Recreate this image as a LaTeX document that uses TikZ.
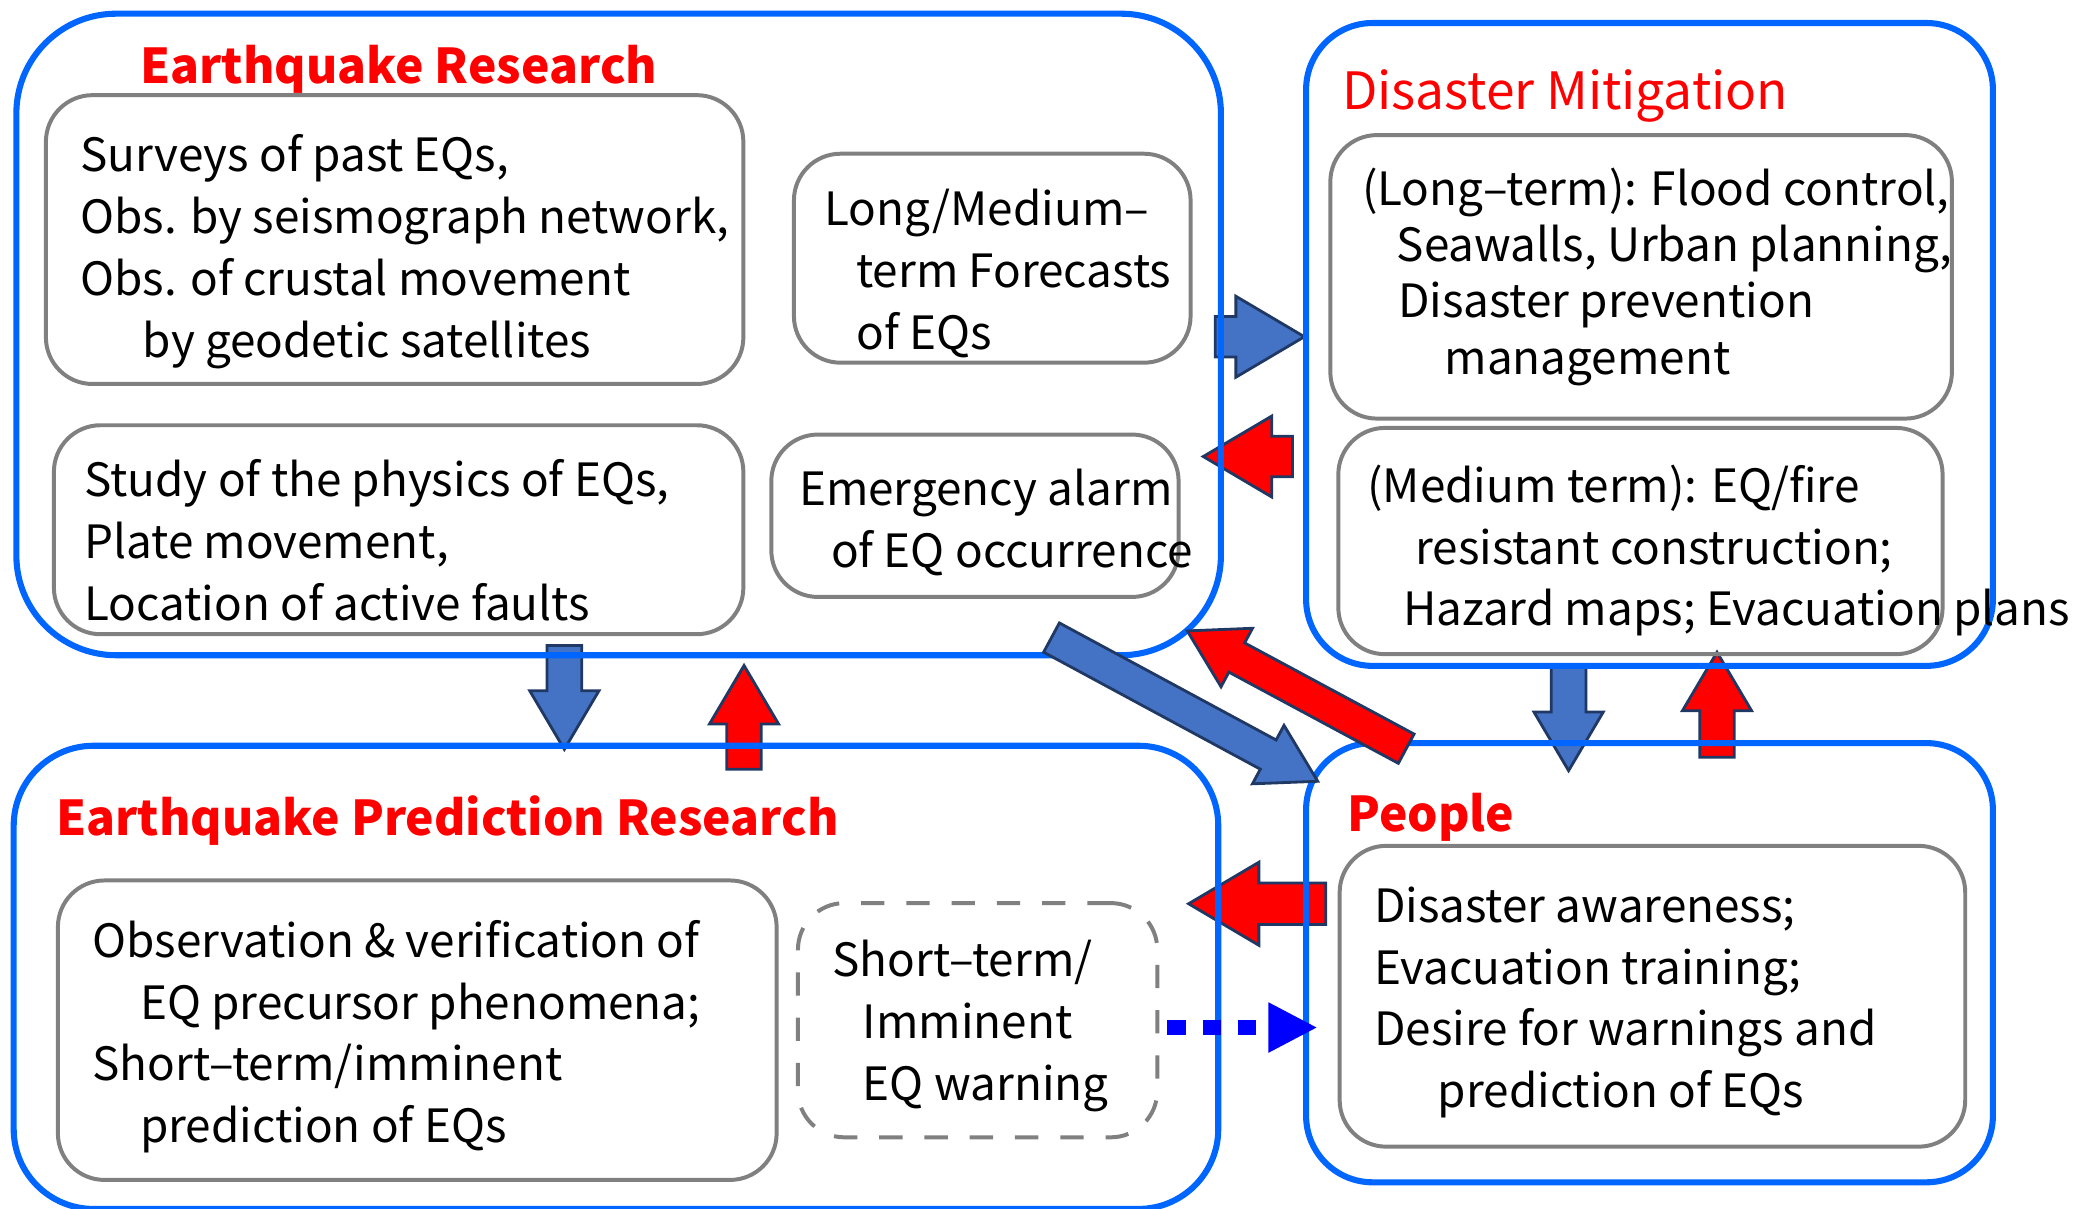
\documentclass[tikz,border=0pt]{standalone}
\usepackage{fontspec}
\setmainfont{Noto Sans CJK JP}
\usetikzlibrary{calc,arrows.meta,positioning}

\definecolor{frameblue}{HTML}{0066FF}
\definecolor{fatblue}{HTML}{4472C4}
\definecolor{fatedge}{HTML}{1F3864}
\definecolor{boxgray}{HTML}{808080}
\definecolor{dotblue}{HTML}{0000FF}

\tikzset{
  outerbox/.style={draw=frameblue, line width=2.6pt, anchor=north west, inner sep=0pt},
  innerbox/.style={draw=boxgray, line width=1.7pt, rounded corners=0.7cm, anchor=north west, inner sep=0pt},
  boxtext/.style={anchor=north west, align=left, inner sep=0pt, font=\fontsize{19.6}{26.4}\selectfont},
  boxtitle/.style={anchor=base west, inner sep=0pt, text=red, font=\fontsize{20.5}{26}\selectfont\bfseries},
  fat/.style={draw=fatedge, line width=1.2pt, line join=miter},
  dotarrow/.style={dotblue, line width=0.22cm, dash pattern=on 0.28cm off 0.25cm,
    -{Triangle[length=0.74cm,width=0.7cm]}}
}

% block arrow: [scale]{fill}{tail}{tip}
\newcommand{\fatarrow}[4][1]{%
  \coordinate (fh) at ($(#4)!#1*0.88cm!(#3)$);
  \draw[fat, fill=#2] ($(#3)!#1*0.26cm!90:(#4)$) -- ($(fh)!#1*0.26cm!90:(#4)$)
    -- ($(fh)!#1*0.52cm!90:(#4)$) -- (#4) -- ($(fh)!#1*0.52cm!-90:(#4)$)
    -- ($(fh)!#1*0.26cm!-90:(#4)$) -- ($(#3)!#1*0.26cm!-90:(#4)$) -- cycle;
}

\begin{document}
\begin{tikzpicture}
  \useasboundingbox (0,0) rectangle (31.36,-18.16);
  %
  % Arrow end points
  \coordinate (fore-a) at (18.26,-5.06);
  \coordinate (fore-b) at (19.60,-5.06);
  \coordinate (alarm-a) at (19.42,-6.86);
  \coordinate (alarm-b) at (18.08,-6.86);
  \coordinate (res-a) at (8.48,-9.70);
  \coordinate (res-b) at (8.48,-11.26);
  \coordinate (pred-a) at (11.18,-11.56);
  \coordinate (pred-b) at (11.18,-10.00);
  \coordinate (mit-a) at (23.57,-10.00);
  \coordinate (mit-b) at (23.57,-11.58);
  \coordinate (ppl-a) at (25.80,-11.38);
  \coordinate (ppl-b) at (25.80,-9.80);
  \coordinate (warn-a) at (19.92,-13.58);
  \coordinate (warn-b) at (17.86,-13.58);
  \coordinate (diag-a) at (15.80,-9.58);
  \coordinate (diag-b) at (19.80,-11.74);
  \coordinate (back-a) at (21.13,-11.25);
  \coordinate (back-b) at (17.84,-9.48);
  \coordinate (dot-a) at (17.54,-15.44);
  \coordinate (dot-b) at (19.80,-15.44);
  %
  % Straight block arrows (under the frames)
  \fatarrow[1.17]{fatblue}{fore-a}{fore-b}
  \fatarrow[1.17]{red}{alarm-a}{alarm-b}
  \fatarrow{fatblue}{res-a}{res-b}
  \fatarrow{red}{pred-a}{pred-b}
  \fatarrow{fatblue}{mit-a}{mit-b}
  \fatarrow{red}{ppl-a}{ppl-b}
  \fatarrow[1.2]{red}{warn-a}{warn-b}
  %
  % Outer frames
  \node[outerbox, rounded corners=1.5cm, minimum width=18.1cm, minimum height=9.64cm] (research) at (0.2,-0.16) {};
  \node[outerbox, rounded corners=1.0cm, minimum width=10.32cm, minimum height=9.66cm] (mitigation) at (19.58,-0.30) {};
  \node[outerbox, rounded corners=1.2cm, minimum width=18.1cm, minimum height=6.96cm] (prediction) at (0.16,-11.16) {};
  \node[outerbox, rounded corners=1.0cm, minimum width=10.32cm, minimum height=6.6cm] (people) at (19.58,-11.12) {};
  %
  % Titles
  \node[boxtitle] (research-t) at (2.10,-1.25) {Earthquake Research};
  \node[boxtitle, font=\fontsize{22}{26}\selectfont] (mitigation-t) at (20.16,-1.65) {Disaster Mitigation};
  \node[boxtitle] (prediction-t) at (0.84,-12.55) {Earthquake Prediction Research};
  \node[boxtitle] (people-t) at (20.24,-12.49) {People};
  %
  % Inner boxes
  \node[innerbox, minimum width=10.48cm, minimum height=4.34cm] (surveys) at (0.66,-1.40) {};
  \node[innerbox, minimum width=5.96cm, minimum height=3.14cm] (forecast) at (11.90,-2.28) {};
  \node[innerbox, minimum width=10.36cm, minimum height=3.14cm] (physics) at (0.78,-6.36) {};
  \node[innerbox, minimum width=6.12cm, minimum height=2.44cm] (alarm) at (11.56,-6.50) {};
  \node[innerbox, minimum width=9.34cm, minimum height=4.26cm] (longterm) at (19.96,-2.00) {};
  \node[innerbox, minimum width=9.08cm, minimum height=3.40cm] (medium) at (20.08,-6.40) {};
  \node[innerbox, minimum width=10.8cm, minimum height=4.5cm] (observe) at (0.84,-13.20) {};
  \node[innerbox, dash pattern=on 0.35cm off 0.33cm, minimum width=5.4cm, minimum height=3.52cm] (warning) at (11.96,-13.54) {};
  \node[innerbox, minimum width=9.4cm, minimum height=4.52cm] (awareness) at (20.10,-12.68) {};
  %
  % Texts
  \node[boxtext] (surveys-x) at (1.20,-2.02) {Surveys of past EQs,\\Obs. by seismograph network,\\Obs. of crustal movement\\\hspace*{0.94cm}by geodetic satellites};
  \node[boxtext] (forecast-x) at (12.38,-2.84) {Long/Medium–\\\hspace*{0.48cm}term Forecasts\\\hspace*{0.48cm}of EQs};
  \node[boxtext] (physics-x) at (1.26,-6.90) {Study of the physics of EQs,\\Plate movement,\\Location of active faults};
  \node[boxtext] (alarm-x) at (12.00,-7.04) {Emergency alarm\\\hspace*{0.48cm}of EQ occurrence};
  \node[boxtext, font=\fontsize{19.6}{24}\selectfont] (longterm-x) at (20.46,-2.52) {(Long–term): Flood control,\\\hspace*{0.52cm}Seawalls, Urban planning,\\\hspace*{0.54cm}Disaster prevention\\\hspace*{1.24cm}management};
  \node[boxtext] (medium-x) at (20.54,-6.98) {(Medium term): EQ/fire\\\hspace*{0.72cm}resistant construction;\\\hspace*{0.54cm}Hazard maps; Evacuation plans};
  \node[boxtext] (observe-x) at (1.38,-13.82) {Observation \& verification of\\\hspace*{0.72cm}EQ precursor phenomena;\\Short–term/imminent\\\hspace*{0.72cm}prediction of EQs};
  \node[boxtext] (warning-x) at (12.50,-14.12) {Short–term/\\\hspace*{0.46cm}Imminent\\\hspace*{0.46cm}EQ warning};
  \node[boxtext] (awareness-x) at (20.64,-13.32) {Disaster awareness;\\Evacuation training;\\Desire for warnings and\\\hspace*{0.96cm}prediction of EQs};
  %
  % Diagonal block arrows and warning link
  \fatarrow[0.96]{fatblue}{diag-a}{diag-b}
  \fatarrow[0.96]{red}{back-a}{back-b}
  \draw[dotarrow] (dot-a) -- (dot-b);
\end{tikzpicture}
\end{document}
